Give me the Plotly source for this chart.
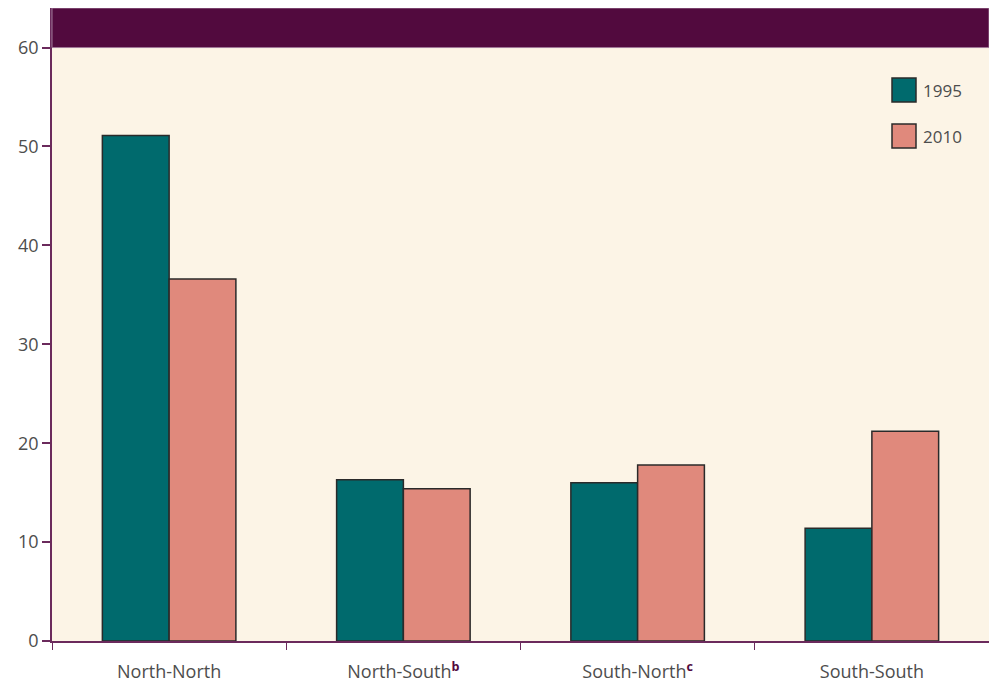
import plotly.graph_objects as go

categories = ["North-North", "North-South<b><sup><span style='color:#520a3e'>b</span></sup></b>",
              "South-North<b><sup><span style='color:#520a3e'>c</span></sup></b>", "South-South"]
series_names = ["1995", "2010"]
values_1995 = [51.1, 16.3, 16.0, 11.4]
values_2010 = [36.6, 15.4, 17.8, 21.2]
y_ticks = [0, 10, 20, 30, 40, 50, 60]

colors = ["#006a6d", "#e0897c"]
purple = "#520a3e"
axis_purple = "#6b2a5c"
font_family = "Open Sans, Noto Sans, sans-serif"
text_color = "#4d4d4d"

fig = go.Figure()
for name, vals, col in zip(series_names, [values_1995, values_2010], colors):
    fig.add_trace(go.Bar(
        x=categories, y=vals, name=name, marker_color=col,
        marker_line_color="#2a2a2a", marker_line_width=1.5, showlegend=False,
    ))

W, H = 989, 690
L, R, T, B = 52, 0, 8, 49
pw, ph = W - L - R, H - T - B

def px(x):
    return (x - L) / pw

def py(y):
    return (H - B - y) / ph

shapes = [
    dict(type="rect", xref="paper", yref="y", x0=0, x1=1, y0=60, y1=64,
         fillcolor=purple, line=dict(color="#a07898", width=1), layer="above"),
]
annotations = []
legend_rows = [(78, 102), (124, 148)]
for (y0, y1), name, col in zip(legend_rows, series_names, colors):
    shapes.append(dict(type="rect", xref="paper", yref="paper",
                       x0=px(892), x1=px(916), y0=py(y1), y1=py(y0),
                       fillcolor=col, line=dict(color="#2a2a2a", width=1.5)))
    annotations.append(dict(xref="paper", yref="paper", x=px(921), y=py((y0 + y1) / 2),
                            text=name, showarrow=False, xanchor="left", yanchor="middle",
                            font=dict(family=font_family, size=17, color=text_color)))

fig.update_layout(
    width=W, height=H,
    margin=dict(l=L, r=R, t=T, b=B),
    paper_bgcolor="white",
    plot_bgcolor="#fcf4e6",
    barmode="group", bargap=0.43, bargroupgap=0,
    shapes=shapes, annotations=annotations,
    font=dict(family=font_family, color=text_color),
)
fig.update_xaxes(
    type="category", range=[-0.5, 3.5], tickson="boundaries",
    ticks="outside", ticklen=7, tickcolor=axis_purple, tickwidth=1,
    showline=True, linecolor=axis_purple, linewidth=1.5,
    showgrid=False, tickfont=dict(size=18, color=text_color, family=font_family),
    ticklabelstandoff=14,
)
fig.update_yaxes(
    range=[0, 64], tickvals=y_ticks, ticks="outside", ticklen=8,
    tickcolor=axis_purple, tickwidth=1.5,
    showline=True, linecolor=axis_purple, linewidth=1.5,
    showgrid=False, zeroline=False,
    tickfont=dict(size=18, color=text_color, family=font_family),
)

fig.write_html(
    "out.html",
    config={"displayModeBar": False},
    post_script="document.body.style.margin='0';document.documentElement.style.overflow='hidden';document.body.style.overflow='hidden';",
)
